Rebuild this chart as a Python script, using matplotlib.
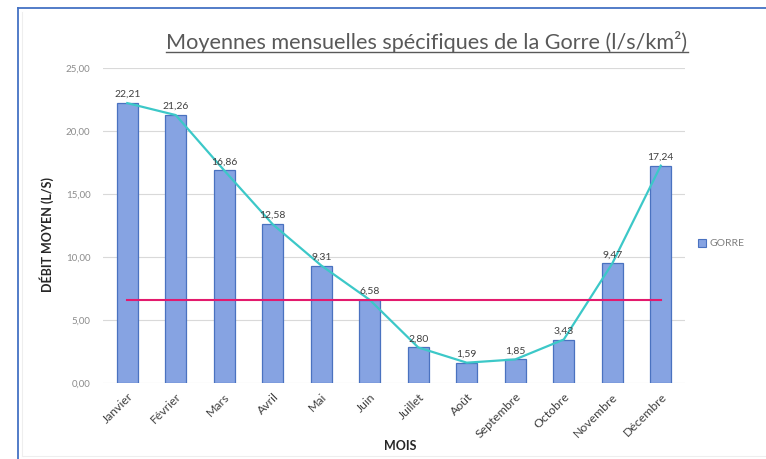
import matplotlib
matplotlib.use("Agg")
import matplotlib.pyplot as plt
from matplotlib.lines import Line2D
from matplotlib.patches import Rectangle

months = ["Janvier", "Février", "Mars", "Avril", "Mai", "Juin", "Juillet",
          "Août", "Septembre", "Octobre", "Novembre", "Décembre"]
gorre = [22.21, 21.26, 16.86, 12.58, 9.31, 6.58, 2.80, 1.59, 1.85, 3.43, 9.47, 17.24]
reference_value = 6.55
yticks = [0, 5, 10, 15, 20, 25]

W, H = 766, 459
fig = plt.figure(figsize=(W / 100, H / 100), dpi=100)
plt.rcParams['font.family'] = ['Lato', 'DejaVu Sans']

ax = fig.add_axes([103 / W, 1 - 382.7 / H, (685 - 103) / W, (382.7 - 68) / H])
x = list(range(len(months)))
ax.bar(x, gorre, width=0.43, color="#86A3E2", edgecolor="#4A72C0", linewidth=0.9, zorder=2)
ax.plot(x, gorre, color="#3CC8C8", lw=1.6, zorder=3)
ax.plot([x[0], x[-1]], [reference_value, reference_value], color="#E31A6E", lw=1.5, zorder=4)

for xi, v in zip(x, gorre):
    ax.annotate(f"{v:.2f}".replace(".", ","), (xi, v), xytext=(0, 3), textcoords="offset points",
                ha="center", va="bottom", fontsize=7.5, color="#404040", zorder=5)

ax.set_xlim(-0.5, 11.5)
ax.set_ylim(0, 25)
ax.set_yticks(yticks)
ax.set_yticklabels([f"{t:.2f}".replace(".", ",") for t in yticks], fontsize=7, color="#8C8C8C")
ax.set_xticks(x)
ax.set_xticklabels(months, rotation=45, ha="right", rotation_mode="anchor", fontsize=8.8, color="#404040")
ax.tick_params(length=0)
ax.tick_params(axis="y", pad=9)
ax.tick_params(axis="x", pad=6)
ax.grid(axis="y", color="#D9D9D9", lw=0.8, zorder=0)
ax.set_axisbelow(True)
for s in ax.spines.values():
    s.set_visible(False)

fig.text(47 / W, 1 - 234 / H, "DÉBIT MOYEN (L/S)", rotation=90, ha="center", va="center",
         fontsize=9, fontweight="bold", color="#262626")
fig.text(400 / W, 1 - 446 / H, "MOIS", ha="center", va="center",
         fontsize=9, fontweight="bold", color="#262626")

title = fig.text(427 / W, 1 - 42 / H, "Moyennes mensuelles spécifiques de la Gorre (l/s/km²)",
                 ha="center", va="center", fontsize=15.6, color="#595959")

# legend
fig.patches.append(Rectangle((698 / W, 1 - 247 / H), 8 / W, 8 / H, transform=fig.transFigure,
                             facecolor="#86A3E2", edgecolor="#4A72C0", lw=0.8))
fig.text(709 / W, 1 - 243 / H, "GORRE", ha="left", va="center", fontsize=7.5, color="#7F7F7F")

# frame
fig.add_artist(Line2D([17.5 / W, 17.5 / W], [0, 1 - 7.5 / H], transform=fig.transFigure,
                      color="#4472C4", lw=1.3))
fig.add_artist(Line2D([17.5 / W, 1], [1 - 7.5 / H, 1 - 7.5 / H], transform=fig.transFigure,
                      color="#4472C4", lw=1.3))
fig.add_artist(Line2D([22 / W, 22 / W], [3 / H, 1 - 12 / H], transform=fig.transFigure,
                      color="#EEEEEE", lw=0.8))
fig.add_artist(Line2D([22 / W, 1], [3 / H, 3 / H], transform=fig.transFigure,
                      color="#EEEEEE", lw=0.8))

# underline title
fig.canvas.draw()
bb = title.get_window_extent(renderer=fig.canvas.get_renderer())
yline = bb.y0 + 1
fig.add_artist(Line2D([bb.x0 / W, bb.x1 / W], [yline / H, yline / H], transform=fig.transFigure,
                      color="#595959", lw=1.0))

fig.savefig("out.png", dpi=100)
